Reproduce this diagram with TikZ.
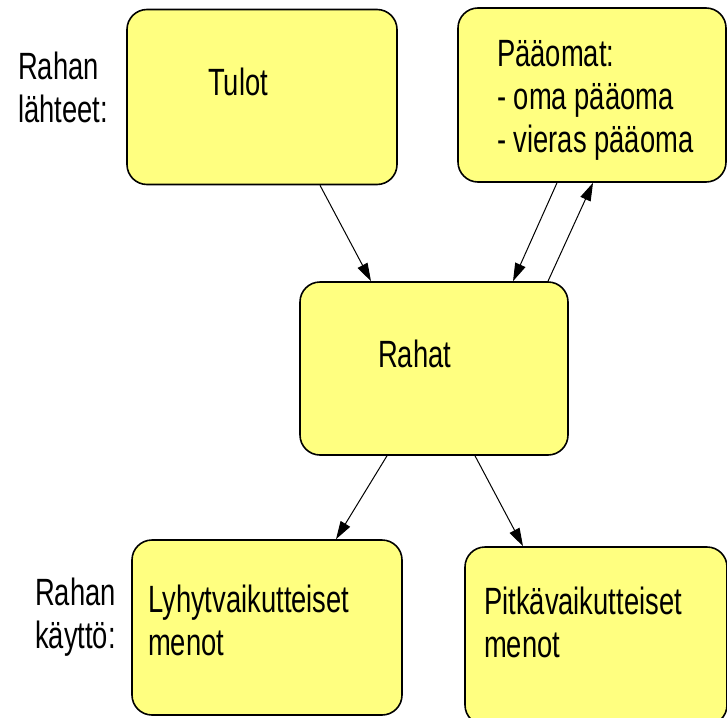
\documentclass[tikz,border=0pt]{standalone}
\usepackage{fontspec}
\setmainfont[FakeStretch=0.72]{Liberation Sans}
\usetikzlibrary{arrows.meta}

\definecolor{boxyellow}{RGB}{255,255,128}

\tikzset{
  box/.style={draw=black,fill=boxyellow,line width=1.6pt,rounded corners=20pt,inner sep=0pt},
  txt/.style={anchor=base west,inner sep=0pt,align=left,font=\fontsize{38}{43}\selectfont},
  arr/.style={line width=1pt,-{Triangle[length=18pt,width=11pt]}}
}

\begin{document}
\begin{tikzpicture}[x=1pt,y=-1pt]
  \useasboundingbox (0,0) rectangle (727,717);
  \clip (0,0) rectangle (727,717);
  \fill[white] (0,0) rectangle (727,717);

  % Boxes
  \node[box,minimum width=270,minimum height=175] (tulot) at (262,97) {};
  \node[box,minimum width=268,minimum height=174] (paaomat) at (592,95) {};
  \node[box,minimum width=268,minimum height=173] (rahat) at (434,368.5) {};
  \node[box,minimum width=270,minimum height=175] (lyhyt) at (267,627.5) {};
  \node[box,minimum width=262,minimum height=178] (pitka) at (596,636) {};

  % Texts (base = baseline of the last line)
  \node[txt] (tulotlbl) at (208,95) {Tulot};
  \node[txt] (paaomatlbl) at (497,152) {Pääomat:\\- oma pääoma\\- vieras pääoma};
  \node[txt] (rahatlbl) at (378,367) {Rahat};
  \node[txt] (lyhytlbl) at (148,655) {Lyhytvaikutteiset\\menot};
  \node[txt] (pitkalbl) at (484,657) {Pitkävaikutteiset\\menot};

  % Side labels
  \node[txt] (lahteet) at (18,122) {Rahan\\lähteet:};
  \node[txt] (kaytto) at (35,648) {Rahan\\käyttö:};

  % Arrows
  \draw[arr] ([xshift=58]tulot.south) -- ([xshift=-63]rahat.north);
  \draw[arr] ([xshift=-35]paaomat.south) -- ([xshift=79]rahat.north);
  \draw[arr] ([xshift=114]rahat.north) -- ([xshift=1]paaomat.south);
  \draw[arr] ([xshift=-47]rahat.south) -- ([xshift=69]lyhyt.north);
  \draw[arr] ([xshift=41]rahat.south) -- ([xshift=-73]pitka.north);
\end{tikzpicture}
\end{document}
